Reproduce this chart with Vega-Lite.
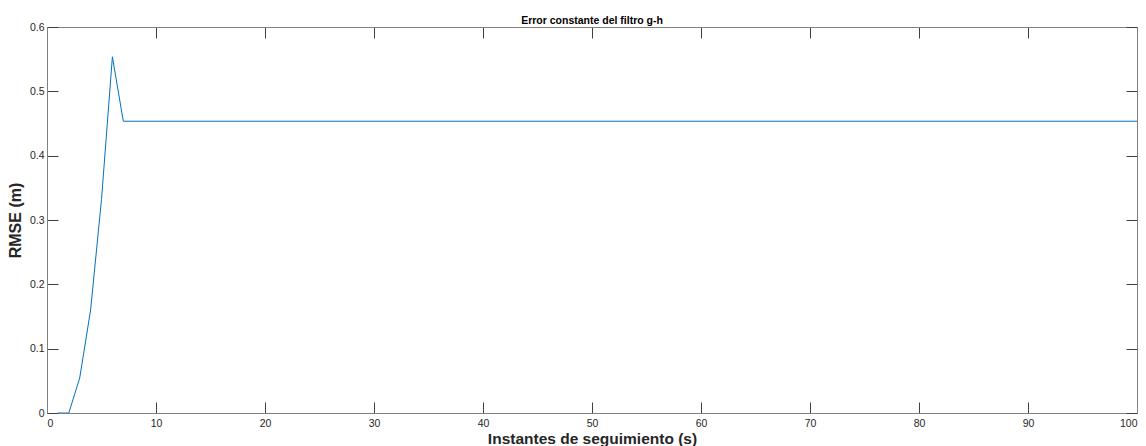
{
  "$schema": "https://vega.github.io/schema/vega-lite/v6.json",
  "width": 1090,
  "height": 386,
  "autosize": {"type": "none"},
  "padding": {"left": 47, "top": 27, "right": 9, "bottom": 33},
  "background": "white",
  "title": {
    "text": "Error constante del filtro g-h",
    "font": "Liberation Sans",
    "fontSize": 10.5,
    "fontWeight": "bold",
    "color": "#000000",
    "offset": -4,
    "anchor": "middle"
  },
  "config": {
    "view": {"stroke": "#808080", "strokeWidth": 1},
    "axis": {
      "grid": false,
      "domainColor": "#808080",
      "tickColor": "#404040",
      "tickSize": -11,
      "labelFont": "Liberation Sans",
      "labelFontSize": 10.5,
      "labelColor": "#262626",
      "titleFont": "Liberation Sans",
      "titleFontSize": 15.5,
      "titleFontWeight": "bold",
      "titleColor": "#262626"
    }
  },
  "data": {
    "values": [
      {"t": 1, "rmse": 0}, {"t": 2, "rmse": 0}, {"t": 3, "rmse": 0.0544},
      {"t": 4, "rmse": 0.16}, {"t": 5, "rmse": 0.332}, {"t": 6, "rmse": 0.5537},
      {"t": 7, "rmse": 0.4535}, {"t": 8, "rmse": 0.4535}, {"t": 9, "rmse": 0.4535},
      {"t": 10, "rmse": 0.4535}, {"t": 20, "rmse": 0.4535}, {"t": 30, "rmse": 0.4535},
      {"t": 40, "rmse": 0.4535}, {"t": 50, "rmse": 0.4535}, {"t": 60, "rmse": 0.4535},
      {"t": 70, "rmse": 0.4535}, {"t": 80, "rmse": 0.4535}, {"t": 90, "rmse": 0.4535},
      {"t": 100, "rmse": 0.4535}
    ]
  },
  "layer": [
    {
      "mark": {"type": "line", "color": "#0072BD", "strokeWidth": 1, "clip": true},
      "encoding": {
        "x": {
          "field": "t", "type": "quantitative",
          "scale": {"domain": [0, 100], "nice": false},
          "axis": {"orient": "bottom", "values": [0,10,20,30,40,50,60,70,80,90,100], "labelPadding": 16, "title": "Instantes de seguimiento (s)", "titlePadding": 3}
        },
        "y": {
          "field": "rmse", "type": "quantitative",
          "scale": {"domain": [0, 0.6], "nice": false, "zero": false},
          "axis": {"orient": "left", "values": [0,0.1,0.2,0.3,0.4,0.5,0.6], "format": "~g", "labelPadding": 14, "title": "RMSE (m)", "titleFontSize": 16, "titlePadding": 6}
        }
      }
    },
    {
      "mark": {"type": "line", "strokeOpacity": 0},
      "encoding": {
        "x": {
          "field": "t", "type": "quantitative",
          "axis": {"orient": "top", "values": [0,10,20,30,40,50,60,70,80,90,100], "labels": false, "title": null}
        },
        "y": {
          "field": "rmse", "type": "quantitative",
          "axis": {"orient": "right", "values": [0,0.1,0.2,0.3,0.4,0.5,0.6], "labels": false, "title": null}
        }
      }
    }
  ],
  "resolve": {"axis": {"x": "independent", "y": "independent"}}
}
